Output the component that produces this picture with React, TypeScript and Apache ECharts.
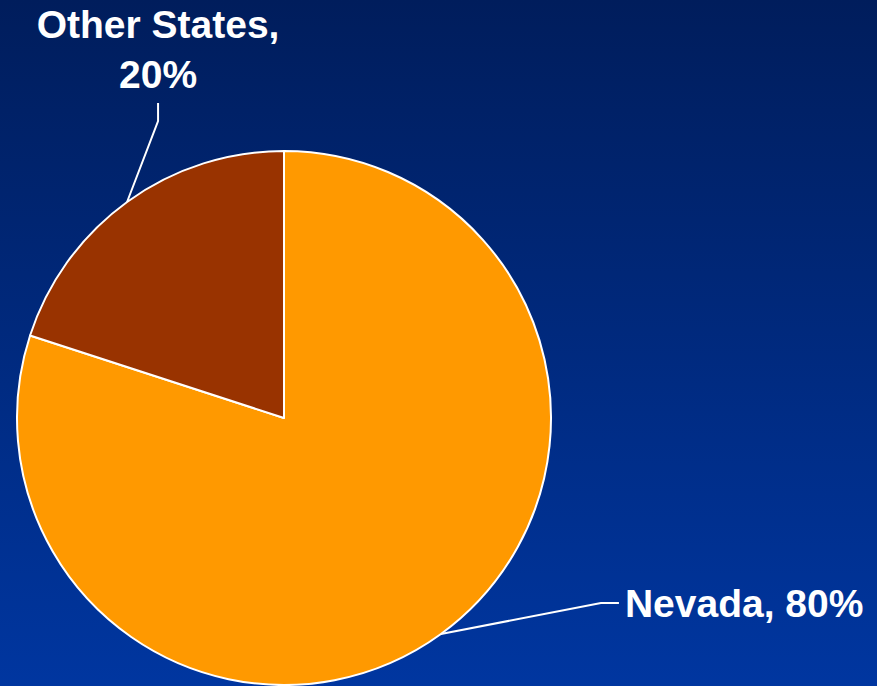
import React, { useEffect, useRef } from "react";
import * as echarts from "echarts";

const categories = ["Nevada", "Other States"];
const values = [80, 20];
const sliceColors = ["#FF9900", "#993300"];

export default function App() {
  const ref = useRef<HTMLDivElement>(null);
  useEffect(() => {
    if (!ref.current) return;
    const chart = echarts.init(ref.current, null, { renderer: "svg" });
    const total = values.reduce((a, b) => a + b, 0);
    const font = {
      color: "#ffffff",
      fontWeight: "bold" as const,
      fontFamily: "'Liberation Sans', Arial, sans-serif",
      fontSize: 39,
      lineHeight: 50,
    };
    chart.setOption({
      animation: false,
      backgroundColor: new echarts.graphic.LinearGradient(0, 0, 0, 1, [
        { offset: 0, color: "#001d5c" },
        { offset: 1, color: "#0036a0" },
      ]),
      series: [
        {
          type: "pie",
          silent: true,
          center: [284, 418],
          radius: 267,
          startAngle: 90,
          clockwise: true,
          itemStyle: { borderColor: "#ffffff", borderWidth: 2 },
          label: {
            show: true,
            position: "outside",
            overflow: "none",
            ...font,
            formatter: (p: any) => {
              const pct = Math.round((p.value / total) * 100);
              return p.dataIndex === 1 ? `${p.name},\n${pct}%` : `${p.name}, ${pct}%`;
            },
          },
          labelLine: {
            show: true,
            length: 20,
            length2: 20,
            lineStyle: { color: "#ffffff", width: 2 },
          },
          labelLayout: (params: any) => {
            const pts = params.labelLinePoints;
            if (!pts) return {};
            const s = pts[0];
            if (params.dataIndex === 0) {
              const elbow = [s[0] + 160, s[1] - 31];
              const end = [elbow[0] + 18, elbow[1]];
              return {
                x: end[0] + 6,
                y: end[1],
                width: 400,
                align: "left",
                verticalAlign: "middle",
                labelLinePoints: [s, elbow, end],
              };
            }
            const elbow = [s[0] + 31, s[1] - 81];
            const end = [elbow[0], elbow[1] - 18];
            return {
              x: end[0],
              y: end[1] - 3,
              width: 400,
              align: "center",
              verticalAlign: "bottom",
              labelLinePoints: [s, elbow, end],
            };
          },
          data: categories.map((name, i) => ({
            name,
            value: values[i],
            itemStyle: { color: sliceColors[i] },
          })),
        },
      ],
    });
    return () => chart.dispose();
  }, []);
  return (
    <div
      ref={ref}
      style={{ position: "fixed", left: 0, top: 0, width: 877, height: 686 }}
    />
  );
}
